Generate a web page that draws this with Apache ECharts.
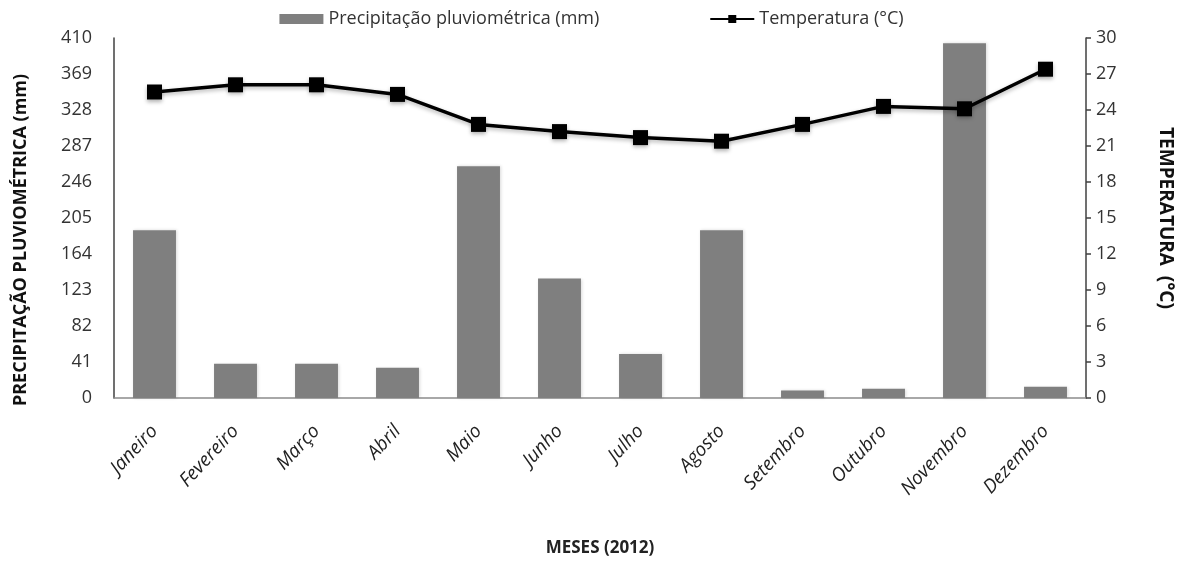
<!DOCTYPE html>
<html>
<head>
<meta charset="utf-8">
<script src="https://cdn.jsdelivr.net/npm/echarts@6/dist/echarts.min.js"></script>
<style>
html, body { margin: 0; padding: 0; background: #fff; }
#main { width: 1183px; height: 562px; }
</style>
</head>
<body>
<div id="main"></div>
<script>
var meses = ['Janeiro', 'Fevereiro', 'Março', 'Abril', 'Maio', 'Junho', 'Julho', 'Agosto', 'Setembro', 'Outubro', 'Novembro', 'Dezembro'];
var precipitacao = [191, 39, 39, 34.5, 264, 136, 50, 191, 8.5, 10.5, 404, 12.8];
var temperatura = [25.5, 26.1, 26.1, 25.3, 22.8, 22.2, 21.7, 21.4, 22.8, 24.3, 24.1, 27.4];

var fonte = '"Open Sans", Lato, sans-serif';

var dom = document.getElementById('main');
var myChart = echarts.init(dom);

var option = {
    animation: false,
    textStyle: { fontFamily: fonte },
    legend: {
        top: 5,
        left: 'center',
        itemGap: 110,
        itemWidth: 44,
        itemHeight: 10,
        textStyle: { fontSize: 18, color: '#333', fontFamily: fonte },
        data: [
            { name: 'Precipitação pluviométrica (mm)', icon: 'rect' },
            { name: 'Temperatura (°C)' }
        ]
    },
    grid: {
        left: 114,
        right: 96,
        top: 38,
        bottom: 164
    },
    xAxis: [
        {
            type: 'category',
            data: meses,
            name: 'MESES (2012)',
            nameLocation: 'middle',
            nameGap: 142,
            nameTextStyle: { fontSize: 17, fontWeight: 'bold', color: '#222', fontFamily: fonte },
            axisLine: { lineStyle: { color: '#8c8c8c', width: 1.5 } },
            axisTick: { show: false },
            axisLabel: {
                rotate: 47,
                margin: 30,
                fontSize: 19,
                fontStyle: 'italic',
                color: '#222',
                fontFamily: fonte
            }
        }
    ],
    yAxis: [
        {
            type: 'value',
            min: 0,
            max: 410,
            interval: 41,
            name: 'PRECIPITAÇÃO PLUVIOMÉTRICA (mm)',
            nameLocation: 'middle',
            nameGap: 84,
            nameRotate: 90,
            nameTextStyle: { fontSize: 18, fontWeight: 'bold', color: '#111', fontFamily: fonte, padding: [0, 44, 0, 0] },
            axisLine: { show: true, lineStyle: { color: '#404040', width: 1.5 } },
            axisTick: { show: false },
            splitLine: { show: false },
            axisLabel: { fontSize: 18, color: '#333', margin: 22, fontFamily: fonte }
        },
        {
            type: 'value',
            min: 0,
            max: 30,
            interval: 3,
            position: 'right',
            name: 'TEMPERATURA  (°C)',
            nameLocation: 'middle',
            nameGap: 70,
            nameRotate: -90,
            nameTextStyle: { fontSize: 19, fontWeight: 'bold', color: '#111', fontFamily: fonte },
            axisLine: { show: true, lineStyle: { color: '#404040', width: 1.5 } },
            axisTick: { show: true, length: 5, lineStyle: { color: '#404040', width: 1.5 } },
            splitLine: { show: false },
            axisLabel: { fontSize: 18, color: '#333', margin: 10, fontFamily: fonte }
        }
    ],
    series: [
        {
            name: 'Precipitação pluviométrica (mm)',
            type: 'bar',
            yAxisIndex: 0,
            barWidth: '53%',
            itemStyle: {
                color: '#7f7f7f',
                shadowColor: 'rgba(0,0,0,0.15)',
                shadowBlur: 3,
                shadowOffsetX: 1
            },
            data: precipitacao
        },
        {
            name: 'Temperatura (°C)',
            type: 'line',
            yAxisIndex: 1,
            symbol: 'rect',
            symbolSize: 15,
            lineStyle: {
                color: '#000',
                width: 3.5,
                shadowColor: 'rgba(0,0,0,0.3)',
                shadowBlur: 4,
                shadowOffsetY: 2
            },
            itemStyle: {
                color: '#000',
                shadowColor: 'rgba(0,0,0,0.3)',
                shadowBlur: 4,
                shadowOffsetY: 2
            },
            data: temperatura
        }
    ]
};

myChart.setOption(option);
</script>
</body>
</html>
